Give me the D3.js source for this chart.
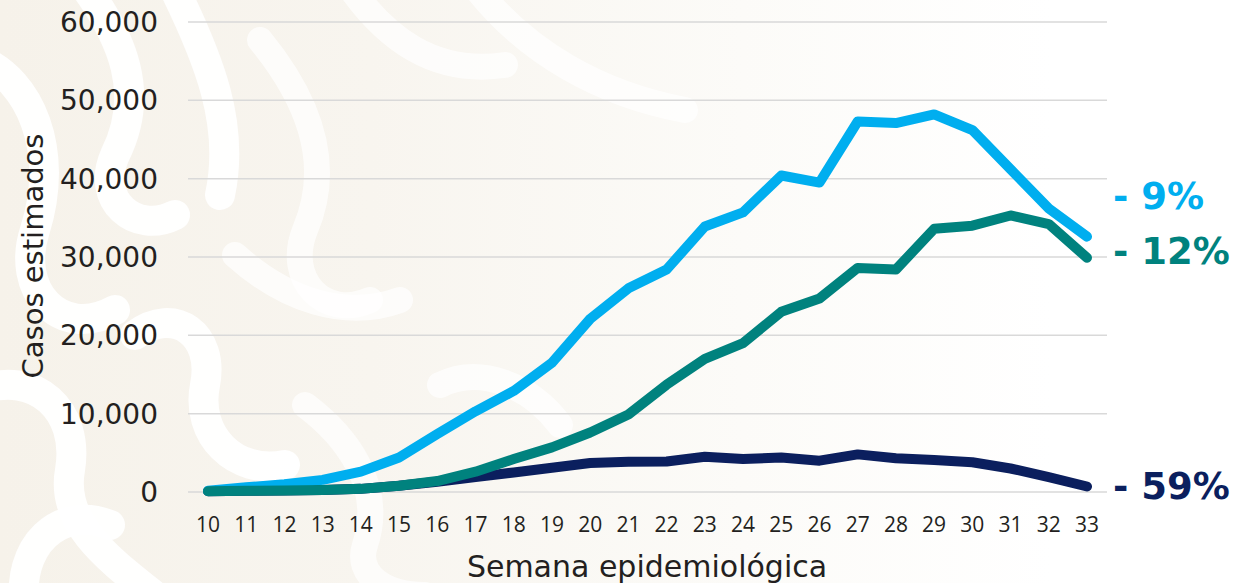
<!DOCTYPE html>
<html>
<head>
<meta charset="utf-8">
<script src="https://cdn.jsdelivr.net/npm/d3@7"></script>
<style>
  html, body { margin: 0; padding: 0; background: #ffffff; }
  svg { display: block; }
</style>
</head>
<body>
<svg id="chart" width="1237" height="583"></svg>
<script>
// ---- Data ----
const weeks = [10,11,12,13,14,15,16,17,18,19,20,21,22,23,24,25,26,27,28,29,30,31,32,33];
const yTicks = [0, 10000, 20000, 30000, 40000, 50000, 60000];
const seriesLightBlue = [150, 600, 1000, 1550, 2600, 4400, 7400, 10300, 12900, 16500, 22100, 26000, 28400, 33900, 35700, 40400, 39500, 47300, 47100, 48200, 46200, 41200, 36200, 32600];
const seriesTeal      = [100, 150, 200, 250, 400, 800, 1400, 2600, 4200, 5700, 7600, 9900, 13700, 17000, 19000, 23000, 24700, 28600, 28400, 33600, 34000, 35300, 34200, 29900];
const seriesNavy      = [100, 150, 200, 250, 400, 800, 1300, 1900, 2500, 3100, 3700, 3850, 3900, 4500, 4200, 4400, 4000, 4800, 4300, 4100, 3800, 3000, 1900, 700];
const changeLabels = ["- 9%", "- 12%", "- 59%"];
const yTitle = "Casos estimados";
const xTitle = "Semana epidemiológica";

// ---- Layout ----
const W = 1237, H = 583;
const svg = d3.select("#chart");
const x = d3.scaleLinear().domain([10, 33]).range([208, 1087]);
const y = d3.scaleLinear().domain([0, 60000]).range([492, 22]);
const gridX0 = 188, gridX1 = 1107;

const colors = { lightBlue: "#00aeef", teal: "#00827e", navy: "#0b1f5e" };

// ---- Background (decorative) ----
const defs = svg.append("defs");
const grad = defs.append("linearGradient").attr("id", "bgfade")
  .attr("x1", "0%").attr("x2", "100%").attr("y1", "0%").attr("y2", "0%");
grad.append("stop").attr("offset", "0%").attr("stop-color", "#f6f2ea");
grad.append("stop").attr("offset", "30%").attr("stop-color", "#f8f5ef");
grad.append("stop").attr("offset", "60%").attr("stop-color", "#fcfbf8");
grad.append("stop").attr("offset", "85%").attr("stop-color", "#ffffff");
svg.append("rect").attr("width", W).attr("height", H).attr("fill", "url(#bgfade)");

const deco = svg.append("g").attr("fill", "none").attr("stroke", "#ffffff")
  .attr("stroke-linecap", "round").attr("stroke-linejoin", "round");
const decoPaths = [
  "M-20,60 C30,80 60,150 35,230 C15,290 60,340 115,310",
  "M80,-20 C125,40 145,95 115,155 C95,200 135,235 175,215",
  "M170,-20 C210,60 235,125 220,195",
  "M-20,390 C35,370 80,410 70,470 C60,525 110,560 160,600",
  "M135,335 C175,305 215,335 205,385 C195,435 235,475 285,465",
  "M25,610 C15,545 60,505 110,525",
  "M260,40 C305,95 335,160 305,230 C285,280 325,320 370,300",
  "M345,-20 C385,40 435,75 505,65",
  "M235,255 C285,300 345,320 400,300",
  "M305,405 C345,435 385,485 365,545 C355,575 385,595 425,595",
  "M470,-20 C525,55 605,95 685,110",
  "M440,385 C480,365 530,385 560,425"
];
deco.selectAll("path").data(decoPaths).join("path")
  .attr("d", d => d)
  .attr("stroke-width", (d, i) => i < 6 ? 30 : 26)
  .attr("opacity", (d, i) => i < 6 ? 0.95 : 0.7);

// ---- Grid ----
svg.append("g").selectAll("line").data(yTicks).join("line")
  .attr("x1", gridX0).attr("x2", gridX1)
  .attr("y1", d => y(d)).attr("y2", d => y(d))
  .attr("stroke", "#d9d9d9").attr("stroke-width", 1.5);

// ---- Y axis labels ----
const fmt = d3.format(",");
svg.append("g").selectAll("text").data(yTicks).join("text")
  .attr("x", 158).attr("y", d => y(d))
  .attr("dy", "0.36em")
  .attr("text-anchor", "end")
  .attr("font-family", "DejaVu Sans, sans-serif")
  .attr("font-size", 28)
  .attr("fill", "#231f20")
  .text(d => fmt(d));

// ---- X axis labels ----
svg.append("g").selectAll("text").data(weeks).join("text")
  .attr("x", d => x(d)).attr("y", 532)
  .attr("text-anchor", "middle")
  .attr("font-family", "Open Sans, sans-serif")
  .attr("font-size", 21)
  .attr("fill", "#231f20")
  .text(d => d);

// ---- Axis titles ----
svg.append("text")
  .attr("transform", "translate(43,256) rotate(-90)")
  .attr("text-anchor", "middle")
  .attr("font-family", "DejaVu Sans, sans-serif")
  .attr("font-size", 29)
  .attr("fill", "#231f20")
  .text(yTitle);

svg.append("text")
  .attr("x", 647).attr("y", 577)
  .attr("text-anchor", "middle")
  .attr("font-family", "DejaVu Sans, sans-serif")
  .attr("font-size", 30)
  .attr("fill", "#231f20")
  .text(xTitle);

// ---- Lines ----
const line = d3.line().x((d, i) => x(weeks[i])).y(d => y(d));
const series = [
  { values: seriesNavy, color: colors.navy },
  { values: seriesLightBlue, color: colors.lightBlue },
  { values: seriesTeal, color: colors.teal }
];
svg.append("g").selectAll("path").data(series).join("path")
  .attr("d", d => line(d.values))
  .attr("fill", "none")
  .attr("stroke", d => d.color)
  .attr("stroke-width", 10)
  .attr("stroke-linejoin", "round")
  .attr("stroke-linecap", "round");

// ---- End labels ----
const endLabels = [
  { text: changeLabels[0], color: colors.lightBlue, yBase: 209 },
  { text: changeLabels[1], color: colors.teal, yBase: 264 },
  { text: changeLabels[2], color: colors.navy, yBase: 499 }
];
svg.append("g").selectAll("text").data(endLabels).join("text")
  .attr("x", 1113).attr("y", d => d.yBase)
  .attr("font-family", "DejaVu Sans, sans-serif")
  .attr("font-weight", "bold")
  .attr("font-size", 37)
  .attr("fill", d => d.color)
  .text(d => d.text);
</script>
</body>
</html>
